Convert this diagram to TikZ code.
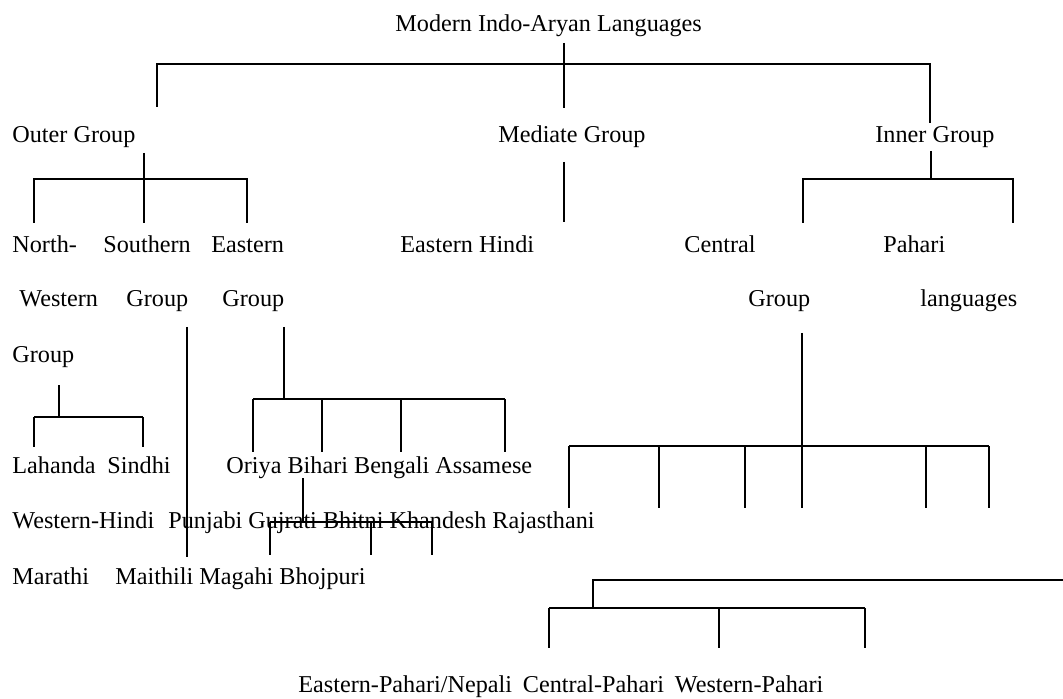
\documentclass[tikz,border=0pt]{standalone}
\usepackage{fontspec}
\setmainfont{Liberation Serif}
\begin{document}
\begin{tikzpicture}[x=0.5pt,y=-0.5pt,
  lbl/.style={anchor=base west,inner sep=0pt,font=\fontsize{12.1}{14}\selectfont},
  ln/.style={line width=1pt,black}]
\useasboundingbox (0,0) rectangle (1063,699);
% texts
\node[lbl] (root) at (395,32) {Modern Indo-Aryan Languages};
\node[lbl] (outer) at (12,143) {Outer Group};
\node[lbl] (mediate) at (498,143) {Mediate Group};
\node[lbl] (inner) at (875,143) {Inner Group};
\node[lbl] (nw1) at (12,253) {North-};
\node[lbl] (so1) at (103,253) {Southern};
\node[lbl] (ea1) at (211,253) {Eastern};
\node[lbl] (ehindi) at (400,253) {Eastern Hindi};
\node[lbl] (ce1) at (684,253) {Central};
\node[lbl] (pa1) at (883,253) {Pahari};
\node[lbl] (nw2) at (19,307) {Western};
\node[lbl] (so2) at (126,307) {Group};
\node[lbl] (ea2) at (222,307) {Group};
\node[lbl] (ce2) at (748,307) {Group};
\node[lbl] (pa2) at (920,307) {languages};
\node[lbl] (nw3) at (12,363) {Group};
\node[lbl] (lah) at (12,473) {Lahanda};
\node[lbl] (sin) at (107,473) {Sindhi};
\node[lbl] (east) at (226,473) {Oriya Bihari Bengali Assamese};
\node[lbl] (whi) at (12,528) {Western-Hindi};
\node[lbl] (cen) at (168,528) {Punjabi Gujrati Bhitni Khandesh Rajasthani};
\node[lbl] (mar) at (12,584) {Marathi};
\node[lbl] (bih) at (115,584) {Maithili Magahi Bhojpuri};
\node[lbl] (bot) at (298,692) {Eastern-Pahari/Nepali\hspace{5.4pt}Central-Pahari\hspace{5.4pt}Western-Pahari};
% coordinates
\coordinate (r0) at (564,43);   \coordinate (r1) at (564,108);
\coordinate (rL) at (157,64);   \coordinate (rR) at (930,64);
\coordinate (rLd) at (157,107); \coordinate (rRd) at (930,123);
\coordinate (o0) at (144,153);  \coordinate (o1) at (144,223);
\coordinate (oL) at (34,179);   \coordinate (oR) at (247,179);
\coordinate (oLd) at (34,223);  \coordinate (oRd) at (247,223);
\coordinate (m0) at (564,162);  \coordinate (m1) at (564,222);
\coordinate (i0) at (931,151);  \coordinate (i1) at (931,179);
\coordinate (iL) at (803,179);  \coordinate (iR) at (1013,179);
\coordinate (iLd) at (803,223); \coordinate (iRd) at (1013,223);
\coordinate (s0) at (187,327);  \coordinate (s1) at (187,557);
\coordinate (e0) at (284,327);  \coordinate (e1) at (284,399);
\coordinate (eL) at (253,399);  \coordinate (eR) at (505,399);
\coordinate (n0) at (59,385);   \coordinate (n1) at (59,417);
\coordinate (nL) at (34,417);   \coordinate (nR) at (143,417);
\coordinate (c0) at (802,333);  \coordinate (c1) at (802,446);
\coordinate (cL) at (569,446);  \coordinate (cR) at (989,446);
\coordinate (b0) at (303,478);  \coordinate (b1) at (303,522);
\coordinate (bL) at (270,522);  \coordinate (bR) at (432,522);
\coordinate (p0) at (593,580);  \coordinate (pE) at (1063,580);
\coordinate (p1) at (593,608);
\coordinate (pL) at (549,608);  \coordinate (pR) at (865,608);
% connectors
\draw[ln] (r0) -- (r1);
\draw[ln] (rLd) -- (rL) -- (rR) -- (rRd);
\draw[ln] (o0) -- (o1);
\draw[ln] (oLd) -- (oL) -- (oR) -- (oRd);
\draw[ln] (m0) -- (m1);
\draw[ln] (i0) -- (i1);
\draw[ln] (iLd) -- (iL) -- (iR) -- (iRd);
\draw[ln] (s0) -- (s1);
\draw[ln] (e0) -- (e1);
\draw[ln] (eL) -- (eR);
\foreach \x in {253,322,401,505} \draw[ln] (\x,399) -- (\x,452);
\draw[ln] (n0) -- (n1);
\draw[ln] (nL) -- (nR);
\foreach \x in {34,143} \draw[ln] (\x,417) -- (\x,447);
\draw[ln] (c0) -- (c1);
\draw[ln] (cL) -- (cR);
\foreach \x in {569,659,745,802,926,989} \draw[ln] (\x,446) -- (\x,508);
\draw[ln] (b0) -- (b1);
\draw[ln] (bL) -- (bR);
\foreach \x in {270,371,432} \draw[ln] (\x,522) -- (\x,555);
\draw[ln] (pE) -- (p0) -- (p1);
\draw[ln] (pL) -- (pR);
\foreach \x in {549,719,865} \draw[ln] (\x,608) -- (\x,648);
\end{tikzpicture}
\end{document}
